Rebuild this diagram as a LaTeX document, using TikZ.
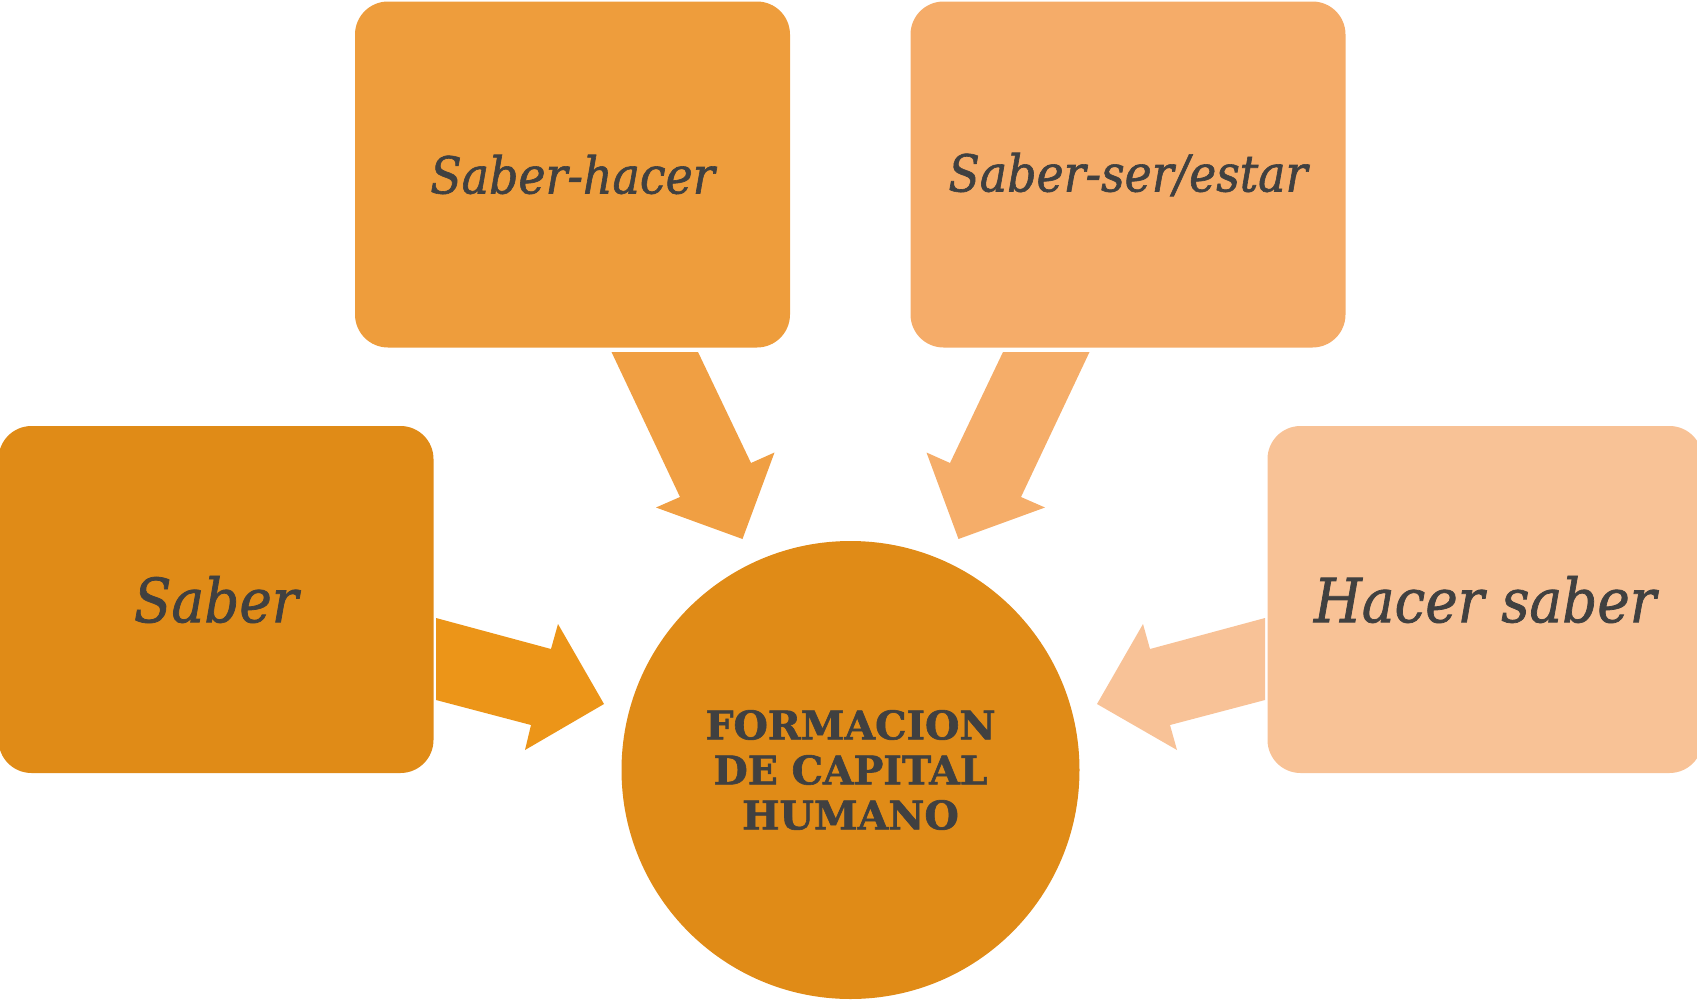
\documentclass[tikz,border=0pt]{standalone}
\usepackage{fontspec}
\setmainfont{DejaVu Serif}
\newfontfamily\condserif[FakeBold=1.2]{DejaVu Serif Condensed}
\newfontfamily\hubfont[FakeBold=1.5]{DejaVu Serif}
\definecolor{cSaber}{HTML}{E08B17}
\definecolor{cHacer}{HTML}{EE9D3C}
\definecolor{cSer}{HTML}{F5AC69}
\definecolor{cHS}{HTML}{F8C296}
\definecolor{aL}{HTML}{EC9518}
\definecolor{aTL}{HTML}{F09F43}
\definecolor{aTR}{HTML}{F5AD69}
\definecolor{aR}{HTML}{F8C297}
\definecolor{txt}{HTML}{404040}
\begin{document}
\begin{tikzpicture}[x=1pt,y=-1pt,
  box/.style={rectangle,rounded corners=33pt,minimum width=435pt,minimum height=346pt,inner sep=0pt,text=txt},
  smalltxt/.style={font=\condserif\itshape\fontsize{51}{55}\selectfont},
  bigtxt/.style={font=\condserif\itshape\fontsize{61}{66}\selectfont},
  hub/.style={circle,minimum size=458pt,inner sep=0pt,fill=cSaber,text=txt,align=center,font=\hubfont\bfseries\fontsize{39.5}{45}\selectfont}]
\useasboundingbox (0,0) rectangle (1697,1001);
\node[box,fill=cHacer,smalltxt] (hacer) at (572.5,174.5) {Saber-hacer};
\node[box,fill=cSer,smalltxt] (ser) at (1128,174.5) {Saber-ser/estar};
\node[box,fill=cSaber,bigtxt,minimum height=347pt] (saber) at (216,599.5) {Saber};
\node[box,fill=cHS,bigtxt,minimum height=347pt] (hs) at (1485,599.5) {Hacer saber};
\node[hub] (hub) at (850.5,770) {FORMACION\\DE CAPITAL\\HUMANO};
\fill[aL] (436,618) -- (551,649) -- (558,624) -- (604,704) -- (525,750) -- (531,725) -- (436,700) -- cycle;
\fill[aR] (1265,618) -- (1150,649) -- (1143,624) -- (1097,704) -- (1177,750) -- (1170,725) -- (1265,700) -- cycle;
\fill[aTL] (611.5,352) -- (698,352) -- (751,463) -- (774.5,452.5) -- (742.5,539) -- (656,507.5) -- (680,497) -- cycle;
\fill[aTR] (1089.5,352) -- (1003,352) -- (950,463) -- (926.5,452.5) -- (958.5,539) -- (1045,507.5) -- (1021,497) -- cycle;
\end{tikzpicture}
\end{document}
